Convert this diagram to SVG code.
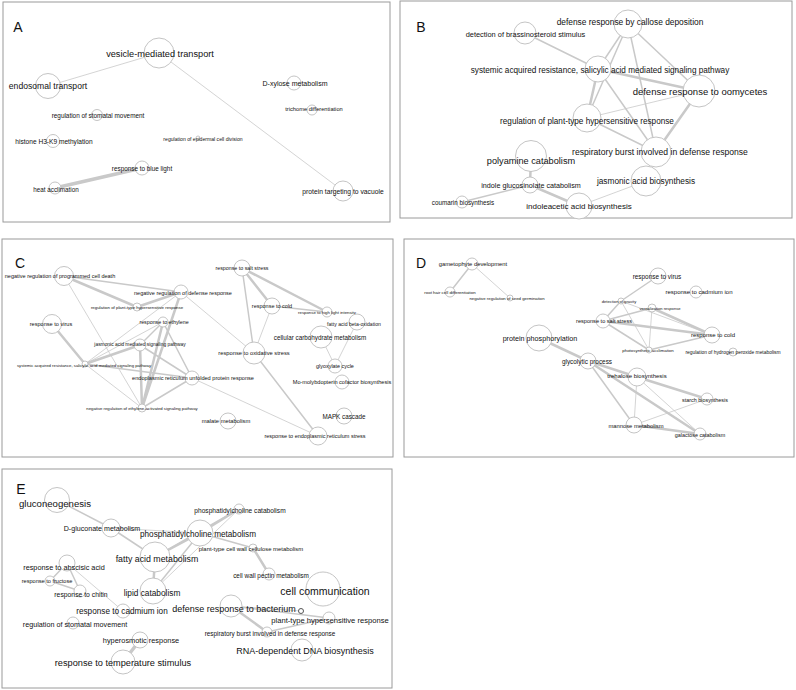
<svg xmlns="http://www.w3.org/2000/svg" width="796" height="690" viewBox="0 0 796 690">
<style>
.bg{fill:#fff}
.panel{fill:#fff;stroke:#9a9a9a;stroke-width:1}
.n circle{fill:#fff;stroke:#bdbdbd;stroke-width:0.9}
.n circle.dk{stroke:#555;stroke-width:1}
.e line{stroke:#c9c9c9;stroke-linecap:round}
.e .t1{stroke-width:0.8}
.e .t2{stroke-width:1.5}
.e .t3{stroke-width:2.5}
.e .t4{stroke-width:3.5}
text{font-family:"Liberation Sans",Arial,Helvetica,sans-serif;fill:#111;text-anchor:middle;dominant-baseline:central}
.lbl{font-size:14px}
</style>
<rect class="bg" x="0" y="0" width="796" height="690"/>

<!-- Panel A -->
<rect class="panel" x="3" y="2" width="387" height="220"/>
<text class="lbl" x="18" y="27">A</text>
<g class="e" id="A-edges">
<line class="t1" x1="159" y1="53" x2="48" y2="86"/>
<line class="t1" x1="159" y1="53" x2="343" y2="191"/>
<line class="t4" x1="55" y1="188" x2="142" y2="168"/>
</g>
<g class="n" id="A-vesicle"><circle cx="159" cy="53" r="15"/><text x="160" y="54" font-size="9.2">vesicle-mediated transport</text></g>
<g class="n" id="A-endosomal"><circle cx="48" cy="86" r="12.5"/><text x="48" y="86" font-size="8.6">endosomal transport</text></g>
<g class="n" id="A-stomatal"><circle cx="97" cy="115" r="5.5"/><text x="98" y="115" font-size="6.4">regulation of stomatal movement</text></g>
<g class="n" id="A-histone"><circle cx="53" cy="141" r="6.5"/><text x="54" y="141" font-size="6.6">histone H3-K9 methylation</text></g>
<g class="n" id="A-epidermal"><circle cx="198" cy="138" r="2"/><text x="203" y="139" font-size="5.1">regulation of epidermal cell division</text></g>
<g class="n" id="A-xylose"><circle cx="294" cy="83" r="7"/><text x="295" y="83" font-size="7">D-xylose metabolism</text></g>
<g class="n" id="A-trichome"><circle cx="312" cy="110" r="5"/><text x="314" y="109" font-size="5.7">trichome differentiation</text></g>
<g class="n" id="A-bluelight"><circle cx="142" cy="168" r="7"/><text x="142" y="168" font-size="6.35">response to blue light</text></g>
<g class="n" id="A-heat"><circle cx="55" cy="188" r="6"/><text x="56" y="189" font-size="6.3">heat acclimation</text></g>
<g class="n" id="A-vacuole"><circle cx="343" cy="191" r="10"/><text x="343" y="191" font-size="6.75">protein targeting to vacuole</text></g>

<!-- Panel B -->
<rect class="panel" x="400" y="1" width="392" height="217"/>
<text class="lbl" x="421" y="27">B</text>
<g class="e" id="B-edges">
<line class="t2" x1="525" y1="33" x2="598" y2="69"/>
<line class="t2" x1="628" y1="24" x2="598" y2="69"/>
<line class="t2" x1="628" y1="24" x2="587" y2="118"/>
<line class="t3" x1="598" y1="69" x2="587" y2="118"/>
<line class="t2" x1="628" y1="24" x2="656" y2="152"/>
<line class="t2" x1="628" y1="24" x2="699" y2="91"/>
<line class="t3" x1="598" y1="69" x2="699" y2="91"/>
<line class="t2" x1="598" y1="69" x2="656" y2="152"/>
<line class="t1" x1="587" y1="118" x2="699" y2="91"/>
<line class="t2" x1="587" y1="118" x2="656" y2="152"/>
<line class="t3" x1="699" y1="91" x2="656" y2="152"/>
<line class="t3" x1="531" y1="156" x2="530" y2="185"/>
<line class="t2" x1="530" y1="185" x2="462" y2="202"/>
<line class="t3" x1="530" y1="185" x2="579" y2="206"/>
<line class="t1" x1="579" y1="206" x2="646" y2="181"/>
</g>
<g class="n" id="B-callose"><circle cx="628" cy="24" r="14"/><text x="630" y="22" font-size="8.4">defense response by callose deposition</text></g>
<g class="n" id="B-brassinosteroid"><circle cx="525" cy="33" r="11"/><text x="525.5" y="34" font-size="7.4">detection of brassinosteroid stimulus</text></g>
<g class="n" id="B-systemic"><circle cx="598" cy="69" r="13"/><text x="600" y="70" font-size="8.2">systemic acquired resistance, salicylic acid mediated signaling pathway</text></g>
<g class="n" id="B-oomycetes"><circle cx="699" cy="91" r="16"/><text x="700" y="91" font-size="9.5">defense response to oomycetes</text></g>
<g class="n" id="B-regPT"><circle cx="587" cy="118" r="14"/><text x="587" y="121" font-size="8.2">regulation of plant-type hypersensitive response</text></g>
<g class="n" id="B-respiratory"><circle cx="656" cy="152" r="15"/><text x="660" y="152" font-size="8.6">respiratory burst involved in defense response</text></g>
<g class="n" id="B-polyamine"><circle cx="531" cy="156" r="15.5"/><text x="531" y="161" font-size="9.2">polyamine catabolism</text></g>
<g class="n" id="B-indoleglu"><circle cx="530" cy="185" r="8"/><text x="531" y="185" font-size="7.2">indole glucosinolate catabolism</text></g>
<g class="n" id="B-coumarin"><circle cx="462" cy="202" r="6"/><text x="463" y="202" font-size="6.3">coumarin biosynthesis</text></g>
<g class="n" id="B-indoleacetic"><circle cx="579" cy="206" r="13"/><text x="579" y="206" font-size="8">indoleacetic acid biosynthesis</text></g>
<g class="n" id="B-jasmonic"><circle cx="646" cy="181" r="15"/><text x="646" y="181" font-size="8.3">jasmonic acid biosynthesis</text></g>

<!-- Panel C -->
<rect class="panel" x="2" y="239" width="391" height="218"/>
<text class="lbl" x="20" y="263">C</text>
<g class="e" id="C-edges">
<line class="t2" x1="64" y1="276" x2="181" y2="292"/>
<line class="t3" x1="64" y1="276" x2="137" y2="307"/>
<line class="t1" x1="64" y1="276" x2="142" y2="408"/>
<line class="t3" x1="137" y1="307" x2="181" y2="292"/>
<line class="t1" x1="181" y1="292" x2="85" y2="364"/>
<line class="t3" x1="181" y1="292" x2="142" y2="408"/>
<line class="t1" x1="181" y1="292" x2="254" y2="353"/>
<line class="t3" x1="52" y1="324" x2="85" y2="364"/>
<line class="t2" x1="163" y1="322" x2="140" y2="345"/>
<line class="t3" x1="163" y1="322" x2="142" y2="408"/>
<line class="t2" x1="163" y1="322" x2="192" y2="378"/>
<line class="t1" x1="163" y1="322" x2="85" y2="364"/>
<line class="t3" x1="140" y1="345" x2="85" y2="364"/>
<line class="t3" x1="140" y1="345" x2="142" y2="408"/>
<line class="t2" x1="140" y1="345" x2="192" y2="378"/>
<line class="t2" x1="85" y1="364" x2="192" y2="378"/>
<line class="t1" x1="85" y1="364" x2="142" y2="408"/>
<line class="t2" x1="192" y1="378" x2="142" y2="408"/>
<line class="t1" x1="192" y1="378" x2="318" y2="436"/>
<line class="t3" x1="242" y1="268" x2="272" y2="306"/>
<line class="t3" x1="242" y1="268" x2="327" y2="312"/>
<line class="t2" x1="242" y1="268" x2="254" y2="353"/>
<line class="t2" x1="272" y1="306" x2="327" y2="312"/>
<line class="t1" x1="272" y1="306" x2="254" y2="353"/>
<line class="t2" x1="254" y1="353" x2="318" y2="436"/>
<line class="t1" x1="321" y1="337" x2="335" y2="366"/>
<line class="t1" x1="357" y1="322" x2="335" y2="366"/>
</g>
<g class="n" id="C-pcd"><circle cx="64" cy="276" r="9.5"/><text x="60" y="276" font-size="5.5">negative regulation of programmed cell death</text></g>
<g class="n" id="C-negdef"><circle cx="181" cy="292" r="7"/><text x="183" y="293" font-size="5.5">negative regulation of defense response</text></g>
<g class="n" id="C-regPT"><circle cx="137" cy="307" r="4"/><text x="137" y="307" font-size="4.35">regulation of plant-type hypersensitive response</text></g>
<g class="n" id="C-virus"><circle cx="52" cy="324" r="9.5"/><text x="51" y="324" font-size="5.6">response to virus</text></g>
<g class="n" id="C-ethylene"><circle cx="163" cy="322" r="5"/><text x="164" y="322" font-size="5.3">response to ethylene</text></g>
<g class="n" id="C-jasmonic"><circle cx="140" cy="345" r="6"/><text x="140" y="344" font-size="4.9">jasmonic acid mediated signaling pathway</text></g>
<g class="n" id="C-systemic"><circle cx="85" cy="364" r="3"/><text x="84" y="365" font-size="4.25">systemic acquired resistance, salicylic acid mediated signaling pathway</text></g>
<g class="n" id="C-erunfolded"><circle cx="192" cy="378" r="7"/><text x="193" y="378" font-size="5.6">endoplasmic reticulum unfolded protein response</text></g>
<g class="n" id="C-negeth"><circle cx="142" cy="408" r="4"/><text x="142" y="408" font-size="4.26">negative regulation of ethylene-activated signaling pathway</text></g>
<g class="n" id="C-salt"><circle cx="242" cy="268" r="8"/><text x="242" y="268" font-size="5.3">response to salt stress</text></g>
<g class="n" id="C-cold"><circle cx="272" cy="306" r="8"/><text x="272" y="306" font-size="5.5">response to cold</text></g>
<g class="n" id="C-highlight"><circle cx="327" cy="312" r="5"/><text x="327" y="312" font-size="4.3">response to high light intensity</text></g>
<g class="n" id="C-betaox"><circle cx="357" cy="322" r="8"/><text x="354" y="324" font-size="5.1">fatty acid beta-oxidation</text></g>
<g class="n" id="C-carbo"><circle cx="321" cy="337" r="11"/><text x="320" y="337" font-size="6.3">cellular carbohydrate metabolism</text></g>
<g class="n" id="C-oxidative"><circle cx="254" cy="353" r="11"/><text x="254" y="353" font-size="5.75">response to oxidative stress</text></g>
<g class="n" id="C-glyoxylate"><circle cx="335" cy="366" r="7"/><text x="335" y="366" font-size="5.4">glyoxylate cycle</text></g>
<g class="n" id="C-moco"><circle cx="342" cy="382" r="7"/><text x="342" y="382" font-size="5.6">Mo-molybdopterin cofactor biosynthesis</text></g>
<g class="n" id="C-mapk"><circle cx="344" cy="416" r="8"/><text x="344" y="416" font-size="6.3">MAPK cascade</text></g>
<g class="n" id="C-malate"><circle cx="228" cy="421" r="8"/><text x="226" y="421" font-size="5.8">malate metabolism</text></g>
<g class="n" id="C-erstress"><circle cx="318" cy="436" r="9"/><text x="315" y="436" font-size="5.5">response to endoplasmic reticulum stress</text></g>

<!-- Panel D -->
<rect class="panel" x="404" y="239" width="390" height="218"/>
<text class="lbl" x="421" y="263">D</text>
<g class="e" id="D-edges">
<line class="t2" x1="472" y1="264" x2="450" y2="292"/>
<line class="t1" x1="472" y1="264" x2="510" y2="298"/>
<line class="t3" x1="539" y1="338" x2="588" y2="361"/>
<line class="t2" x1="658" y1="276" x2="621" y2="301"/>
<line class="t2" x1="621" y1="301" x2="603" y2="321"/>
<line class="t1" x1="621" y1="301" x2="712" y2="335"/>
<line class="t1" x1="621" y1="301" x2="649" y2="350"/>
<line class="t2" x1="652" y1="308" x2="603" y2="321"/>
<line class="t3" x1="652" y1="308" x2="712" y2="335"/>
<line class="t1" x1="652" y1="308" x2="649" y2="350"/>
<line class="t3" x1="603" y1="321" x2="712" y2="335"/>
<line class="t2" x1="603" y1="321" x2="649" y2="350"/>
<line class="t2" x1="649" y1="350" x2="712" y2="335"/>
<line class="t3" x1="588" y1="361" x2="637" y2="377"/>
<line class="t3" x1="588" y1="361" x2="700" y2="434"/>
<line class="t2" x1="588" y1="361" x2="634" y2="425"/>
<line class="t3" x1="637" y1="377" x2="707" y2="399"/>
<line class="t1" x1="637" y1="377" x2="634" y2="425"/>
<line class="t1" x1="637" y1="377" x2="700" y2="434"/>
<line class="t1" x1="634" y1="425" x2="707" y2="399"/>
<line class="t3" x1="634" y1="425" x2="700" y2="434"/>
</g>
<g class="n" id="D-gametophyte"><circle cx="472" cy="264" r="6"/><text x="473" y="264" font-size="5.8">gametophyte development</text></g>
<g class="n" id="D-roothair"><circle cx="450" cy="292" r="5"/><text x="450" y="292" font-size="4.4">root hair cell differentiation</text></g>
<g class="n" id="D-seedgerm"><circle cx="510" cy="298" r="3"/><text x="507" y="298" font-size="4.3">negative regulation of seed germination</text></g>
<g class="n" id="D-phospho"><circle cx="539" cy="338" r="13"/><text x="540" y="338" font-size="7.2">protein phosphorylation</text></g>
<g class="n" id="D-glycolytic"><circle cx="588" cy="361" r="8"/><text x="587" y="361" font-size="6.4">glycolytic process</text></g>
<g class="n" id="D-virus"><circle cx="658" cy="276" r="8"/><text x="657" y="276" font-size="6.4">response to virus</text></g>
<g class="n" id="D-cadmium"><circle cx="696" cy="292" r="6"/><text x="699" y="292" font-size="6">response to cadmium ion</text></g>
<g class="n" id="D-gravity"><circle cx="621" cy="301" r="3"/><text x="619" y="301" font-size="4.1">detection of gravity</text></g>
<g class="n" id="D-vernalization"><circle cx="652" cy="308" r="4"/><text x="660" y="308" font-size="4.1">vernalization response</text></g>
<g class="n" id="D-salt"><circle cx="603" cy="321" r="7"/><text x="604" y="321" font-size="5.6">response to salt stress</text></g>
<g class="n" id="D-cold"><circle cx="712" cy="335" r="8"/><text x="713" y="335" font-size="6">response to cold</text></g>
<g class="n" id="D-photosynthetic"><circle cx="649" cy="350" r="3"/><text x="648" y="350" font-size="4.4">photosynthetic acclimation</text></g>
<g class="n" id="D-h2o2"><circle cx="733" cy="352" r="4"/><text x="733" y="352" font-size="4.9">regulation of hydrogen peroxide metabolism</text></g>
<g class="n" id="D-trehalose"><circle cx="637" cy="377" r="9"/><text x="637" y="376" font-size="6">trehalose biosynthesis</text></g>
<g class="n" id="D-starch"><circle cx="707" cy="399" r="6"/><text x="705" y="400" font-size="5.4">starch biosynthesis</text></g>
<g class="n" id="D-mannose"><circle cx="634" cy="425" r="8"/><text x="636" y="426" font-size="5.8">mannose metabolism</text></g>
<g class="n" id="D-galactose"><circle cx="700" cy="434" r="6"/><text x="700" y="435" font-size="5.4">galactose catabolism</text></g>

<!-- Panel E -->
<rect class="panel" x="2" y="469" width="390" height="219"/>
<text class="lbl" x="21" y="489">E</text>
<g class="e" id="E-edges">
<line class="t2" x1="57" y1="500" x2="111" y2="528"/>
<line class="t2" x1="111" y1="528" x2="155" y2="557"/>
<line class="t1" x1="111" y1="528" x2="200" y2="533"/>
<line class="t3" x1="155" y1="557" x2="200" y2="533"/>
<line class="t3" x1="200" y1="533" x2="239" y2="509"/>
<line class="t2" x1="155" y1="557" x2="239" y2="509"/>
<line class="t3" x1="155" y1="557" x2="153" y2="591"/>
<line class="t2" x1="153" y1="591" x2="200" y2="533"/>
<line class="t1" x1="153" y1="591" x2="239" y2="509"/>
<line class="t2" x1="200" y1="533" x2="253" y2="548"/>
<line class="t3" x1="253" y1="548" x2="269" y2="574"/>
<line class="t2" x1="67" y1="563" x2="50" y2="581"/>
<line class="t2" x1="67" y1="563" x2="80" y2="591"/>
<line class="t2" x1="50" y1="581" x2="80" y2="591"/>
<line class="t1" x1="67" y1="563" x2="123" y2="611"/>
<line class="t4" x1="140" y1="640" x2="123" y2="662"/>
<line class="t2" x1="231" y1="606" x2="329" y2="618"/>
<line class="t3" x1="231" y1="606" x2="267" y2="632"/>
<line class="t2" x1="267" y1="632" x2="329" y2="618"/>
<line class="t1" x1="231" y1="606" x2="301" y2="611"/>
</g>
<g class="n" id="E-gluconeogenesis"><circle cx="57" cy="500" r="12.5"/><text x="55" y="503" font-size="9.6">gluconeogenesis</text></g>
<g class="n" id="E-dgluconate"><circle cx="111" cy="528" r="9"/><text x="102" y="529" font-size="7.1">D-gluconate metabolism</text></g>
<g class="n" id="E-pcmetab"><circle cx="200" cy="533" r="13"/><text x="198" y="534" font-size="8.2">phosphatidylcholine metabolism</text></g>
<g class="n" id="E-pccatab"><circle cx="239" cy="509" r="5"/><text x="240" y="510" font-size="6.6">phosphatidylcholine catabolism</text></g>
<g class="n" id="E-cellulose"><circle cx="253" cy="548" r="4"/><text x="251" y="549" font-size="5.9">plant-type cell wall cellulose metabolism</text></g>
<g class="n" id="E-fattyacid"><circle cx="155" cy="557" r="15"/><text x="157" y="559" font-size="8.8">fatty acid metabolism</text></g>
<g class="n" id="E-lipid"><circle cx="153" cy="591" r="13"/><text x="152" y="593" font-size="8.3">lipid catabolism</text></g>
<g class="n" id="E-abscisic"><circle cx="67" cy="563" r="8"/><text x="64" y="567" font-size="7.3">response to abscisic acid</text></g>
<g class="n" id="E-fructose"><circle cx="50" cy="581" r="5"/><text x="47" y="581" font-size="5.6">response to fructose</text></g>
<g class="n" id="E-chitin"><circle cx="80" cy="591" r="6"/><text x="81" y="594" font-size="6.8">response to chitin</text></g>
<g class="n" id="E-cadmium"><circle cx="123" cy="611" r="7"/><text x="122" y="611" font-size="8.2">response to cadmium ion</text></g>
<g class="n" id="E-bacterium"><circle cx="231" cy="606" r="11"/><text x="234" y="609" font-size="9">defense response to bacterium</text></g>
<g class="n" id="E-small"><circle class="dk" cx="301" cy="611" r="2.5"/></g>
<g class="n" id="E-planttypeHR"><circle cx="329" cy="618" r="6"/><text x="330" y="620" font-size="7.6">plant-type hypersensitive response</text></g>
<g class="n" id="E-respiratory"><circle cx="267" cy="632" r="5"/><text x="270" y="633" font-size="6.4">respiratory burst involved in defense response</text></g>
<g class="n" id="E-pectin"><circle cx="269" cy="574" r="6"/><text x="271" y="575" font-size="6.4">cell wall pectin metabolism</text></g>
<g class="n" id="E-cellcomm"><circle cx="323" cy="589" r="17"/><text x="325" y="591" font-size="10.5">cell communication</text></g>
<g class="n" id="E-rna"><circle cx="302" cy="650" r="11"/><text x="305" y="651" font-size="9">RNA-dependent DNA biosynthesis</text></g>
<g class="n" id="E-stomatal"><circle cx="73" cy="623" r="6"/><text x="75" y="624" font-size="7.2">regulation of stomatal movement</text></g>
<g class="n" id="E-hyperosmotic"><circle cx="140" cy="640" r="8"/><text x="141" y="640" font-size="7.4">hyperosmotic response</text></g>
<g class="n" id="E-temperature"><circle cx="123" cy="662" r="12"/><text x="123" y="663" font-size="9.2">response to temperature stimulus</text></g>
</svg>
